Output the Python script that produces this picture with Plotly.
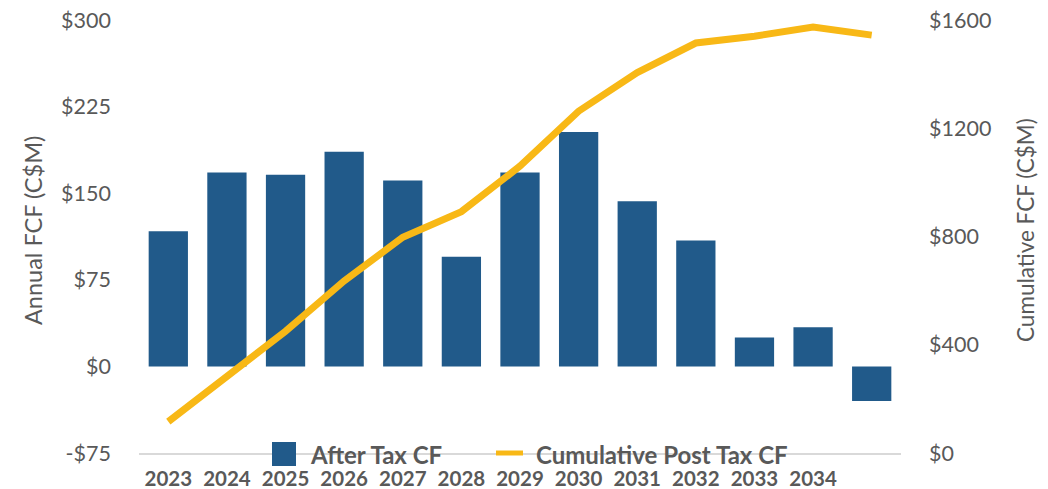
import plotly.graph_objects as go

# Annual after-tax free cash flow and running cumulative total (C$M)
periods = [2023, 2024, 2025, 2026, 2027, 2028, 2029, 2030, 2031, 2032, 2033, 2034, 2035]
tick_labels = ["2023", "2024", "2025", "2026", "2027", "2028", "2029", "2030",
               "2031", "2032", "2033", "2034", ""]
annual_fcf = [117, 168, 166, 186, 161, 95, 168, 203, 143, 109, 25, 34, -30]
cumulative_fcf = [116, 281, 450, 636, 797, 892, 1060, 1263, 1406, 1515, 1540, 1574, 1544]

left_ticks = [-75, 0, 75, 150, 225, 300]
left_tick_text = ["-$75", "$0", "$75", "$150", "$225", "$300"]
right_ticks = [0, 400, 800, 1200, 1600]
right_tick_text = ["$0", "$400", "$800", "$1200", "$1600"]

BAR_COLOR = "#215A8A"
LINE_COLOR = "#F8B816"
TEXT_COLOR = "#595959"
FONT = "Lato"

W, H = 1048, 489
L, R, T, B = 139, 147, 20, 36
PW, PH = W - L - R, H - T - B


def px_x(x):
    return (x - L) / PW


def px_y(y):
    return (H - B - y) / PH


fig = go.Figure()
fig.add_trace(go.Bar(
    x=periods, y=annual_fcf, name="After Tax CF",
    marker=dict(color=BAR_COLOR, line=dict(width=0)),
    yaxis="y", showlegend=False,
))
fig.add_trace(go.Scatter(
    x=periods, y=cumulative_fcf, name="Cumulative Post Tax CF",
    mode="lines", line=dict(color=LINE_COLOR, width=7),
    yaxis="y2", showlegend=False,
))

fig.update_layout(
    width=W, height=H,
    margin=dict(l=L, r=R, t=T, b=B, pad=0, autoexpand=False),
    paper_bgcolor="white", plot_bgcolor="white",
    bargap=0.33,
    font=dict(family=FONT, color=TEXT_COLOR),
    xaxis=dict(
        range=[2022.5, 2035.5], tickvals=periods, ticktext=tick_labels,
        showgrid=False, zeroline=False, automargin=False,
        showline=True, linecolor="#D9D9D9", linewidth=2,
        ticks="", ticklabelstandoff=6,
        tickfont=dict(family=FONT, size=20.5, color=TEXT_COLOR, weight="bold"),
    ),
    yaxis=dict(
        range=[-75, 300], tickvals=left_ticks, ticktext=left_tick_text,
        showgrid=False, zeroline=False, showline=False, ticks="",
        automargin=False, ticklabelstandoff=27,
        tickfont=dict(family=FONT, size=21.5, color=TEXT_COLOR),
    ),
    yaxis2=dict(
        range=[0, 1600], tickvals=right_ticks, ticktext=right_tick_text,
        overlaying="y", side="right", automargin=False,
        showgrid=False, zeroline=False, showline=False, ticks="",
        ticklabelstandoff=27,
        tickfont=dict(family=FONT, size=21.5, color=TEXT_COLOR),
    ),
)

# Axis titles
fig.add_annotation(
    text="Annual FCF (C$M)", xref="paper", yref="paper",
    x=px_x(33), y=px_y(230), textangle=-90, showarrow=False,
    font=dict(family=FONT, size=23.5, color=TEXT_COLOR),
    xanchor="center", yanchor="middle",
)
fig.add_annotation(
    text="Cumulative FCF (C$M)", xref="paper", yref="paper",
    x=px_x(1025), y=px_y(230), textangle=-90, showarrow=False,
    font=dict(family=FONT, size=22.5, color=TEXT_COLOR),
    xanchor="center", yanchor="middle",
)

# Legend drawn inside the plot along the bottom axis
fig.add_shape(
    type="rect", xref="paper", yref="paper",
    x0=px_x(272), x1=px_x(296), y0=px_y(466), y1=px_y(442),
    fillcolor=BAR_COLOR, line=dict(width=0),
)
fig.add_annotation(
    text="After Tax CF", xref="paper", yref="paper",
    x=px_x(308), y=px_y(454), showarrow=False,
    xanchor="left", yanchor="middle",
    font=dict(family=FONT, size=24, color=TEXT_COLOR, weight="bold"),
)
fig.add_shape(
    type="line", xref="paper", yref="paper",
    x0=px_x(496), x1=px_x(523), y0=px_y(453), y1=px_y(453),
    line=dict(color=LINE_COLOR, width=5),
)
fig.add_annotation(
    text="Cumulative Post Tax CF", xref="paper", yref="paper",
    x=px_x(534), y=px_y(454), showarrow=False,
    xanchor="left", yanchor="middle",
    font=dict(family=FONT, size=24, color=TEXT_COLOR, weight="bold"),
)

fig.write_html("out.html")
